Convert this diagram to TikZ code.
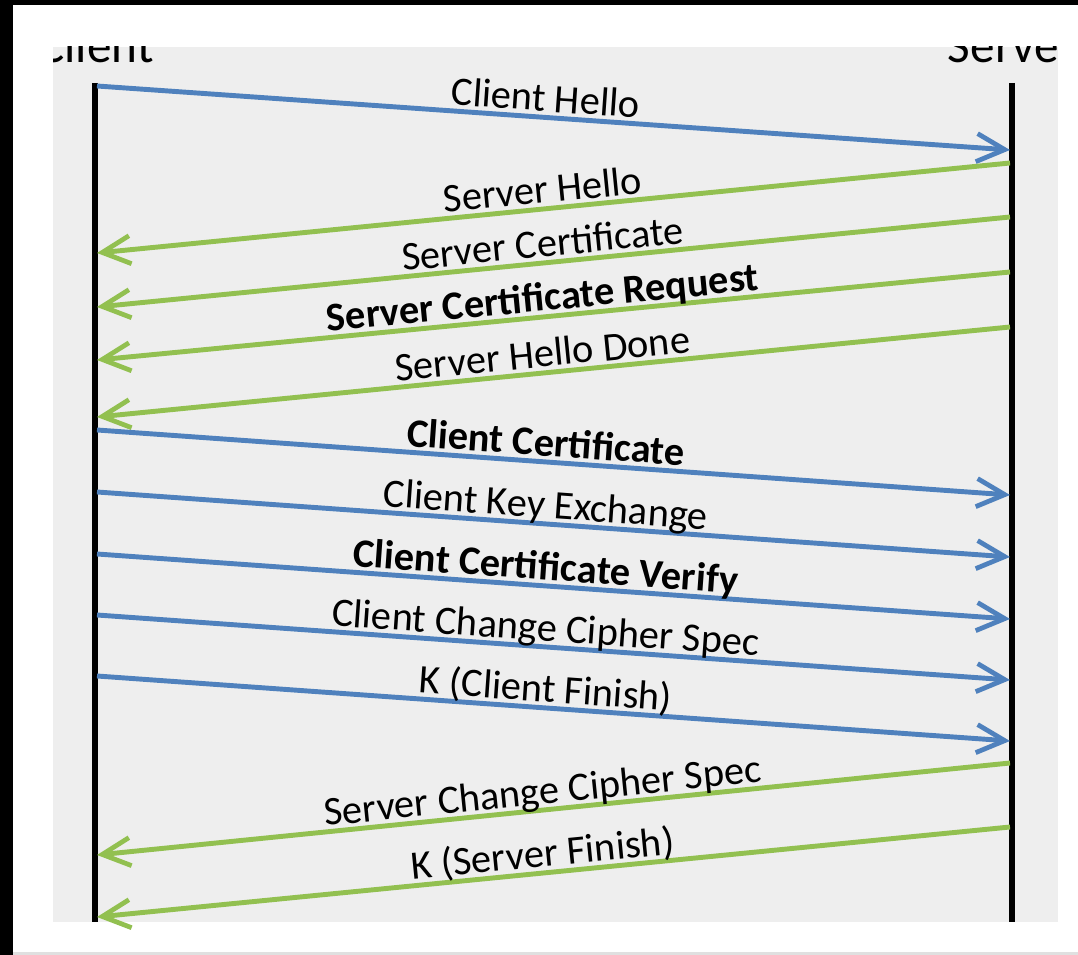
\documentclass[tikz,border=0pt]{standalone}
\usepackage{fontspec}
\setmainfont{Carlito}
\usepackage{tikz}
\usetikzlibrary{arrows.meta}
\definecolor{cCli} {HTML}{4F81BD}
\definecolor{cSrv} {HTML}{92C050}
\definecolor{cPane}{HTML}{EEEEEE}
\tikzset{
  >={Straight Barb[length=16pt,width=16pt,line width=2.7pt]},
  life/.style={line width=3pt,black},
  cmsg/.style={->,line width=2.8pt,cCli},
  smsg/.style={->,line width=2.8pt,cSrv},
  lbl/.style={sloped,above,text depth=0pt,inner sep=2pt,text=black,
              font=\fontsize{23}{27}\selectfont},
  clbl/.style={lbl,pos=.49},
  slbl/.style={lbl,pos=.51},
  ttl/.style={anchor=base,inner sep=0pt,font=\fontsize{28}{32}\selectfont},
}

\begin{document}
\begin{tikzpicture}[x=0.02cm,y=-0.02cm]
  % screenshot frame
  \fill[white] (0,0) rectangle (1078,955);
  \useasboundingbox (0,0) rectangle (1078,955);
  \fill[black] (0,0) rectangle (13,955);
  \fill[black] (0,0) rectangle (1078,5);
  \fill[black!12] (13,952) rectangle (1078,955);
  \fill[cPane] (53,47) rectangle (1058,922);
  \begin{scope}
    \clip (53,47) rectangle (1058,922);
    \node[ttl] (client) at (96,63) {Client};
    \node[ttl] (server) at (1012,63) {Server};
    \coordinate (ctop) at (95,83);   \coordinate (cbot) at (95,922);
    \coordinate (stop) at (1012,83); \coordinate (sbot) at (1012,922);
    \draw[life] (ctop) -- (cbot);
    \draw[life] (stop) -- (sbot);
  \end{scope}
  % message ends on the lifelines
  \coordinate (c1) at (97,86);   \coordinate (s1) at (1010,150);
  \coordinate (c2) at (97,253);  \coordinate (s2) at (1010,163);
  \coordinate (c3) at (97,307);  \coordinate (s3) at (1010,217);
  \coordinate (c4) at (97,360);  \coordinate (s4) at (1010,272);
  \coordinate (c5) at (97,417);  \coordinate (s5) at (1010,327);
  \coordinate (c6) at (97,430);  \coordinate (s6) at (1010,495);
  \coordinate (c7) at (97,492);  \coordinate (s7) at (1010,557);
  \coordinate (c8) at (97,554);  \coordinate (s8) at (1010,619);
  \coordinate (c9) at (97,615);  \coordinate (s9) at (1010,680);
  \coordinate (c10) at (97,676); \coordinate (s10) at (1010,741);
  \coordinate (c11) at (97,855); \coordinate (s11) at (1010,763);
  \coordinate (c12) at (97,917); \coordinate (s12) at (1010,827);
  % handshake
  \draw[cmsg] (c1) -- (s1) node[clbl] {Client Hello};
  \draw[smsg] (s2) -- (c2) node[slbl] {Server Hello};
  \draw[smsg] (s3) -- (c3) node[slbl] {Server Certificate};
  \draw[smsg] (s4) -- (c4) node[slbl] {\textbf{Server Certificate Request}};
  \draw[smsg] (s5) -- (c5) node[slbl] {Server Hello Done};
  \draw[cmsg] (c6) -- (s6) node[clbl] {\textbf{Client Certificate}};
  \draw[cmsg] (c7) -- (s7) node[clbl] {Client Key Exchange};
  \draw[cmsg] (c8) -- (s8) node[clbl] {\textbf{Client Certificate Verify}};
  \draw[cmsg] (c9) -- (s9) node[clbl] {Client Change Cipher Spec};
  \draw[cmsg] (c10) -- (s10) node[clbl] {K (Client Finish)};
  \draw[smsg] (s11) -- (c11) node[slbl] {Server Change Cipher Spec};
  \draw[smsg] (s12) -- (c12) node[slbl] {K (Server Finish)};
\end{tikzpicture}
\end{document}
